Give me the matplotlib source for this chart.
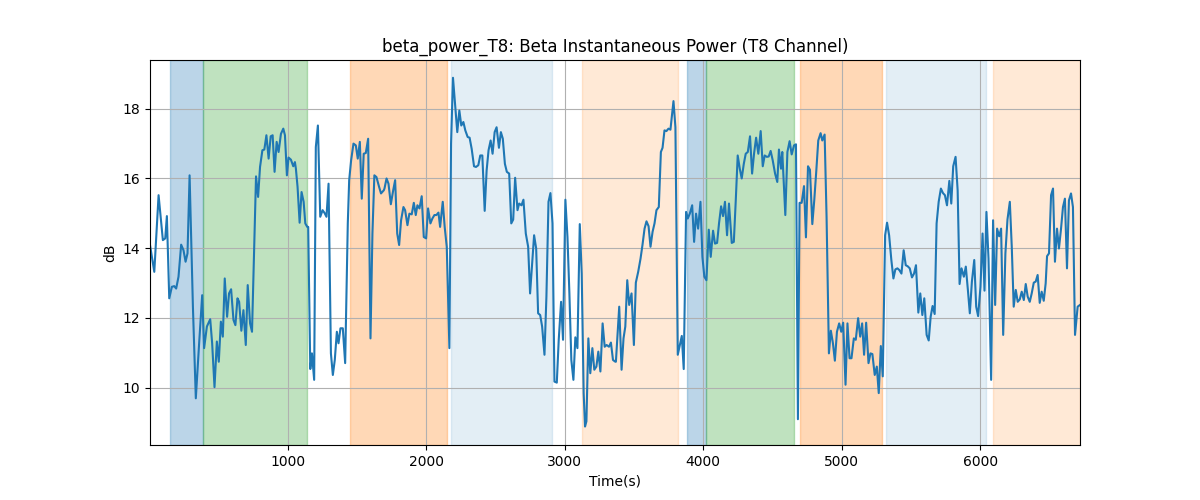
import matplotlib
matplotlib.use('Agg')
import matplotlib.pyplot as plt

# time (s) and beta power (dB)
times = [3, 34, 65, 96, 113, 125, 142, 161, 178, 192, 209, 228, 245, 260, 274, 289, 313, 334, 358, 380,
         394, 414, 438, 452, 469, 486, 500, 515, 529, 543, 560, 574, 589, 606, 620, 635, 647, 663, 678, 695,
         709, 726, 740, 769, 784, 798, 815, 829, 844, 860, 875, 889, 903, 918, 932, 949, 966, 978, 992, 1004,
         1021, 1038, 1050, 1057, 1069, 1084, 1098, 1113, 1125, 1139, 1146, 1161, 1173, 1189, 1201, 1216, 1233, 1250, 1264, 1278,
         1293, 1310, 1324, 1338, 1353, 1365, 1379, 1396, 1413, 1432, 1442, 1456, 1473, 1490, 1504, 1519, 1533, 1547, 1562, 1579,
         1596, 1610, 1624, 1639, 1658, 1672, 1692, 1697, 1712, 1726, 1743, 1760, 1774, 1789, 1803, 1817, 1834, 1846, 1863, 1877,
         1894, 1909, 1923, 1935, 1950, 1966, 1981, 1998, 2012, 2029, 2043, 2058, 2072, 2087, 2099, 2118, 2132, 2147, 2166, 2178,
         2192, 2209, 2223, 2238, 2252, 2267, 2281, 2298, 2312, 2327, 2344, 2358, 2375, 2389, 2404, 2421, 2435, 2449, 2464, 2478,
         2493, 2507, 2524, 2538, 2552, 2567, 2581, 2598, 2613, 2627, 2641, 2658, 2670, 2687, 2701, 2718, 2735, 2749, 2778, 2793,
         2807, 2822, 2836, 2853, 2867, 2882, 2896, 2911, 2925, 2942, 2956, 2973, 2987, 3004, 3019, 3033, 3047, 3062, 3076, 3091,
         3108, 3122, 3136, 3146, 3156, 3170, 3184, 3199, 3213, 3228, 3242, 3257, 3273, 3288, 3302, 3319, 3333, 3348, 3365, 3369,
         3393, 3410, 3424, 3437, 3451, 3465, 3482, 3499, 3513, 3530, 3547, 3561, 3576, 3590, 3605, 3619, 3634, 3648, 3662, 3679,
         3694, 3706, 3720, 3734, 3749, 3763, 3785, 3799, 3816, 3831, 3845, 3859, 3876, 3888, 3903, 3920, 3934, 3948, 3963, 3980,
         3994, 4008, 4023, 4040, 4054, 4071, 4085, 4100, 4114, 4129, 4143, 4157, 4172, 4186, 4206, 4221, 4235, 4249, 4264, 4278,
         4293, 4307, 4322, 4338, 4353, 4367, 4382, 4398, 4415, 4430, 4444, 4459, 4473, 4487, 4502, 4519, 4535, 4547, 4562, 4571,
         4593, 4608, 4624, 4639, 4656, 4670, 4684, 4696, 4711, 4728, 4742, 4757, 4771, 4788, 4802, 4817, 4831, 4848, 4860, 4877,
         4891, 4908, 4922, 4937, 4951, 4966, 4982, 4997, 5011, 5028, 5042, 5057, 5071, 5088, 5102, 5119, 5134, 5148, 5162, 5177,
         5194, 5208, 5222, 5239, 5254, 5268, 5283, 5297, 5314, 5328, 5343, 5359, 5374, 5388, 5403, 5417, 5432, 5448, 5463, 5477,
         5492, 5508, 5523, 5537, 5554, 5568, 5583, 5597, 5614, 5629, 5643, 5657, 5672, 5686, 5701, 5717, 5732, 5746, 5761, 5778,
         5792, 5806, 5823, 5838, 5852, 5866, 5883, 5897, 5912, 5926, 5941, 5958, 5972, 5986, 6003, 6018, 6032, 6046, 6061, 6080,
         6094, 6109, 6123, 6138, 6152, 6167, 6183, 6198, 6215, 6229, 6243, 6258, 6272, 6287, 6301, 6316, 6330, 6344, 6359, 6373,
         6388, 6402, 6416, 6431, 6445, 6460, 6474, 6484, 6498, 6513, 6527, 6541, 6556, 6570, 6585, 6599, 6613, 6628, 6642, 6657,
         6671, 6686, 6705, 6722]
power = [14.09, 13.32, 15.52, 14.23, 14.28, 14.92, 12.56, 12.89, 12.91, 12.84, 13.18, 14.10, 13.94, 13.61, 13.85, 16.09, 12.32, 9.69, 11.27, 12.65,
         11.13, 11.75, 11.96, 11.27, 10.01, 11.32, 10.74, 11.89, 11.46, 13.13, 12.03, 12.70, 12.82, 11.94, 11.79, 12.56, 12.46, 11.63, 12.22, 11.22,
         12.94, 11.84, 11.60, 16.06, 15.47, 16.33, 16.81, 16.83, 17.24, 16.57, 17.21, 17.24, 16.19, 17.05, 16.76, 17.28, 17.43, 17.24, 16.09, 16.60,
         16.54, 16.35, 16.47, 16.28, 15.76, 14.73, 15.61, 15.33, 14.71, 14.61, 14.61, 10.53, 10.98, 10.22, 16.90, 17.52, 14.90, 15.09, 15.01, 14.90,
         15.85, 10.98, 10.36, 10.79, 11.60, 11.27, 11.70, 11.70, 10.70, 14.71, 15.95, 16.52, 17.00, 16.95, 16.57, 17.05, 15.42, 16.71, 16.73, 17.14,
         11.41, 14.42, 16.09, 16.04, 15.76, 15.57, 15.66, 15.71, 16.00, 15.85, 15.26, 15.66, 15.95, 14.42, 14.09, 14.80, 15.18, 15.09, 14.66, 14.99,
         14.97, 15.30, 14.95, 15.23, 15.14, 15.49, 14.32, 14.28, 15.14, 14.71, 14.85, 14.95, 14.95, 15.02, 14.61, 15.33, 14.61, 14.04, 11.13, 17.00,
         18.89, 18.05, 17.33, 17.95, 17.52, 17.62, 17.38, 17.19, 17.17, 16.85, 16.35, 16.33, 16.38, 16.66, 16.66, 15.07, 16.23, 16.81, 17.09, 16.71,
         17.33, 17.47, 16.88, 17.33, 17.14, 16.42, 16.19, 16.14, 14.71, 14.82, 16.02, 15.09, 15.28, 15.23, 15.39, 14.42, 14.04, 12.70, 14.37, 13.99,
         12.13, 12.08, 11.75, 10.94, 12.61, 15.33, 15.58, 14.71, 10.17, 10.14, 11.37, 12.46, 11.37, 15.39, 14.32, 12.70, 10.79, 10.22, 11.44, 11.13,
         14.69, 13.27, 9.84, 8.88, 9.03, 11.41, 10.41, 11.13, 10.51, 10.60, 11.03, 10.46, 11.84, 11.17, 11.22, 11.17, 11.29, 10.79, 10.74, 10.74,
         12.32, 10.51, 11.41, 11.75, 13.08, 12.37, 12.70, 11.22, 13.01, 13.32, 13.70, 14.09, 14.56, 14.77, 14.63, 14.04, 14.47, 14.71, 15.09, 15.18,
         16.76, 16.88, 17.38, 17.36, 17.43, 17.40, 18.22, 17.47, 10.94, 11.22, 11.48, 10.53, 15.04, 14.85, 14.99, 15.23, 14.18, 14.99, 14.56, 15.33,
         13.75, 13.18, 13.08, 14.53, 13.75, 14.50, 14.13, 14.15, 14.71, 15.20, 14.92, 15.33, 14.37, 15.28, 14.15, 14.18, 15.37, 16.66, 16.28, 16.00,
         16.42, 16.71, 16.76, 17.21, 16.14, 16.71, 17.17, 16.71, 17.36, 16.35, 16.66, 16.62, 16.63, 16.79, 16.52, 16.14, 15.90, 16.83, 16.28, 16.76,
         14.95, 16.76, 17.07, 16.69, 16.95, 16.98, 9.09, 15.30, 15.30, 15.78, 14.31, 16.35, 16.25, 14.69, 15.37, 16.23, 17.09, 17.30, 17.09, 17.26,
         14.90, 10.98, 11.63, 11.27, 10.77, 11.60, 11.84, 11.60, 11.86, 10.08, 11.84, 10.84, 10.84, 11.41, 11.37, 11.99, 11.46, 11.84, 10.94, 11.86,
         10.70, 10.98, 10.96, 10.36, 10.60, 9.84, 11.19, 10.32, 14.37, 14.73, 14.37, 13.66, 13.13, 13.39, 13.42, 13.37, 13.27, 13.94, 13.51, 13.48,
         13.42, 13.16, 13.27, 13.51, 12.15, 12.70, 12.08, 12.56, 11.51, 11.35, 12.03, 12.34, 12.11, 14.71, 15.33, 15.71, 15.58, 15.52, 15.23, 15.93,
         15.28, 16.35, 16.62, 15.66, 12.97, 13.42, 13.18, 13.47, 12.80, 12.13, 13.04, 13.66, 12.32, 12.05, 12.89, 14.42, 12.78, 15.04, 13.70, 10.22,
         14.80, 12.37, 14.56, 14.34, 14.56, 11.51, 13.85, 14.82, 15.33, 14.04, 12.32, 12.80, 12.46, 12.53, 12.75, 12.51, 12.97, 12.61, 12.46, 12.70,
         13.01, 13.04, 13.23, 12.43, 12.75, 12.49, 12.99, 13.77, 13.85, 15.52, 15.71, 13.61, 14.56, 13.99, 14.56, 15.18, 15.42, 13.42, 15.37, 15.57,
         15.18, 11.51, 12.32, 12.37]

# shaded phases: start, end, colour, alpha
span_starts = [149, 389, 1447, 2175, 3127, 3884, 4020, 4698, 5319, 6097]
span_ends = [389, 1137, 2146, 2910, 3819, 4020, 4655, 5290, 6040, 6722]
span_colors = ['tab:blue', 'tab:green', 'tab:orange', 'tab:blue', 'tab:orange',
               'tab:blue', 'tab:green', 'tab:orange', 'tab:blue', 'tab:orange']
span_alphas = [0.3, 0.3, 0.3, 0.12, 0.17, 0.3, 0.3, 0.3, 0.12, 0.17]

fig, ax = plt.subplots(figsize=(12, 5), dpi=100)

for s, e, c, a in zip(span_starts, span_ends, span_colors, span_alphas):
    ax.axvspan(s, e, color=c, alpha=a)

ax.plot(times, power, color='tab:blue', linewidth=1.5)

ax.set_xlim(times[0], times[-1])
ax.set_ylim(8.35, 19.4)
ax.grid(True)
ax.set_title('beta_power_T8: Beta Instantaneous Power (T8 Channel)')
ax.set_xlabel('Time(s)')
ax.set_ylabel('dB')

plt.savefig('out.png')
